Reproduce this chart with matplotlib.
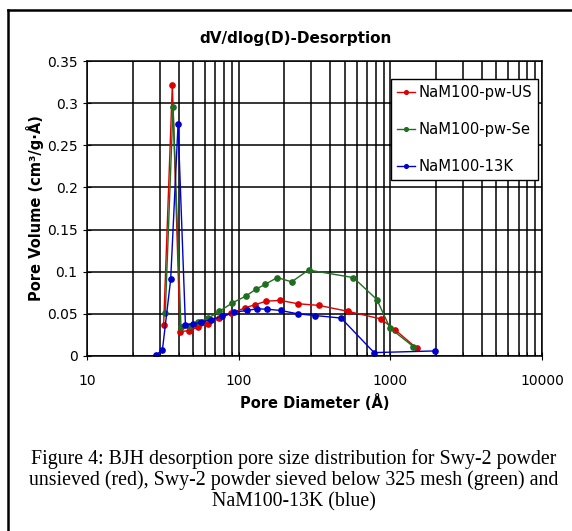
import matplotlib.pyplot as plt
from matplotlib.lines import Line2D
from matplotlib.ticker import LogLocator, FixedLocator, NullFormatter

# BJH desorption data
us_d = [31.9, 36.4, 40.9, 46.7, 53.5, 62.4, 74.4, 89.2, 109.9, 128, 152, 187,
        245, 338, 523, 864, 1074, 1494]
us_v = [0.037, 0.322, 0.029, 0.030, 0.034, 0.038, 0.0445, 0.051, 0.057, 0.061,
        0.065, 0.066, 0.062, 0.060, 0.053, 0.044, 0.031, 0.009]

se_d = [32.7, 36.8, 41.5, 46.9, 53.8, 63, 74.4, 90.6, 111, 129, 149, 179, 223,
        288, 570, 813, 995, 1419]
se_v = [0.051, 0.296, 0.034, 0.036, 0.040, 0.045, 0.053, 0.063, 0.071, 0.079,
        0.085, 0.093, 0.088, 0.102, 0.093, 0.067, 0.033, 0.011]

k13_d = [28.3, 31.3, 35.5, 39.7, 44.4, 50.1, 56.3, 65.2, 77.8, 92.9, 113.7, 131,
         153, 189, 245, 318, 473, 780, 1972]
k13_v = [0.001, 0.007, 0.091, 0.275, 0.037, 0.038, 0.040, 0.043, 0.047, 0.052,
         0.054, 0.056, 0.0555, 0.054, 0.050, 0.048, 0.045, 0.004, 0.006]

labels = ["NaM100-pw-US", "NaM100-pw-Se", "NaM100-13K"]
colors = ["#dd0000", "#1f6e1f", "#0000cc"]
y_ticks = [0, 0.05, 0.1, 0.15, 0.2, 0.25, 0.3, 0.35]
x_ticks = [10, 100, 1000, 10000]

fig = plt.figure(figsize=(5.72, 5.31), dpi=100)
ax = fig.add_axes([0.1526, 0.3296, 0.795, 0.5555])

for d, v, lab, c in zip([us_d, se_d, k13_d], [us_v, se_v, k13_v], labels, colors):
    ax.plot(d, v, "-o", color=c, lw=1.0, ms=3.8, label=lab)

ax.set_xscale("log")
ax.set_xlim(10, 10000)
ax.set_ylim(0, 0.35)
ax.xaxis.set_major_locator(FixedLocator(x_ticks))
ax.set_xticklabels([str(t) for t in x_ticks])
ax.xaxis.set_minor_locator(LogLocator(base=10, subs=range(2, 10)))
ax.xaxis.set_minor_formatter(NullFormatter())
ax.set_yticks(y_ticks)
ax.set_yticklabels(["0", "0.05", "0.1", "0.15", "0.2", "0.25", "0.3", "0.35"])

ax.grid(True, which="major", color="black", lw=1.1)
ax.grid(True, which="minor", axis="x", color="black", lw=1.1)
ax.set_axisbelow(True)
for s in ax.spines.values():
    s.set_linewidth(1.1)
ax.tick_params(which="major", direction="inout", length=6, labelsize=10, pad=4)
ax.tick_params(axis="x", which="major", pad=10)
ax.tick_params(which="minor", direction="in", length=3)

fig.text(296 / 572, 1 - 38 / 531, "dV/dlog(D)-Desorption", fontsize=11,
         fontweight="bold", ha="center", va="center")
ax.set_xlabel("Pore Diameter (Å)", fontsize=10.5, fontweight="bold", labelpad=4)
ax.set_ylabel("Pore Volume (cm³/g·Å)", fontsize=10.5, fontweight="bold", labelpad=2)

leg = ax.legend(loc="upper right", bbox_to_anchor=(0.991, 0.939), borderaxespad=0,
                fontsize=10.6, frameon=True, fancybox=False, framealpha=1,
                edgecolor="black", handlelength=1.2, handletextpad=0.25,
                labelspacing=1.5, borderpad=0.4, markerscale=0.7)
leg.get_frame().set_linewidth(1.0)

# outer frame
fig.add_artist(Line2D([8 / 572, 8 / 572], [0, 1 - 10 / 531], transform=fig.transFigure,
                      color="black", lw=1.8))
fig.add_artist(Line2D([8 / 572, 1], [1 - 10 / 531, 1 - 10 / 531], transform=fig.transFigure,
                      color="black", lw=1.8))

caption = ("Figure 4: BJH desorption pore size distribution for Swy-2 powder\n"
           "unsieved (red), Swy-2 powder sieved below 325 mesh (green) and\n"
           "NaM100-13K (blue)")
fig.text(294 / 572, 1 - 480 / 531, caption, ha="center", va="center", fontsize=14.3,
         family="Liberation Serif", linespacing=1.12)

fig.savefig("out.png", dpi=100)
